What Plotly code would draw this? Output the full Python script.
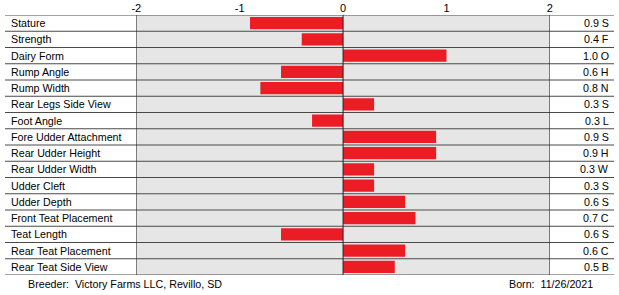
import plotly.graph_objects as go

traits = ["Stature", "Strength", "Dairy Form", "Rump Angle", "Rump Width",
          "Rear Legs Side View", "Foot Angle", "Fore Udder Attachment",
          "Rear Udder Height", "Rear Udder Width", "Udder Cleft", "Udder Depth",
          "Front Teat Placement", "Teat Length", "Rear Teat Placement",
          "Rear Teat Side View"]
values = [-0.9, -0.4, 1.0, -0.6, -0.8, 0.3, -0.3, 0.9, 0.9, 0.3, 0.3, 0.6,
          0.7, -0.6, 0.6, 0.5]
right_labels = ["0.9 S", "0.4 F", "1.0 O", "0.6 H", "0.8 N", "0.3 S", "0.3 L",
                "0.9 S", "0.9 H", "0.3 W", "0.3 S", "0.6 S", "0.7 C", "0.6 S",
                "0.6 C", "0.5 B"]
x_ticks = [-2, -1, 0, 1, 2]
breeder = "Breeder:  Victory Farms LLC, Revillo, SD"
born = "Born:  11/26/2021"

W, H = 619, 295
FONT = "Arial, Liberation Sans, sans-serif"
FS = 10.7
x0p, x1p = 133 / W, 552 / W
ybot, ytop = (H - 275) / H, (H - 15) / H

idx = list(range(len(traits)))

fig = go.Figure()
fig.add_trace(go.Bar(x=values, y=idx, orientation="h",
                     marker=dict(color="#ec1c24", line=dict(width=0)),
                     width=0.75, hoverinfo="skip"))

shapes = []
for i in range(len(traits) + 1):
    shapes.append(dict(type="line", xref="paper", yref="y", x0=0, x1=617 / W,
                       y0=i - 0.5, y1=i - 0.5, line=dict(color="#4a4a4a", width=1)))
for xv in [-2, 0, 2]:
    shapes.append(dict(type="line", xref="x", yref="y", x0=xv, x1=xv,
                       y0=-0.5, y1=len(traits) - 0.5,
                       line=dict(color="#222222", width=1)))

ann = []
for i, (t, r) in enumerate(zip(traits, right_labels)):
    ann.append(dict(x=4 / W, y=i, xref="paper", yref="y", text=t, showarrow=False,
                    xanchor="left", yanchor="middle", font=dict(size=FS, color="black", family=FONT)))
    ann.append(dict(x=614 / W, y=i, xref="paper", yref="y", text=r, showarrow=False,
                    xanchor="right", yanchor="middle", font=dict(size=FS, color="black", family=FONT)))
ann.append(dict(x=21 / W, y=(H - 284) / H, xref="paper", yref="paper", text=breeder,
                showarrow=False, xanchor="left", yanchor="middle",
                font=dict(size=FS, color="black", family=FONT)))
ann.append(dict(x=509 / W, y=(H - 284) / H, xref="paper", yref="paper", text=born,
                showarrow=False, xanchor="left", yanchor="middle",
                font=dict(size=FS, color="black", family=FONT)))

fig.update_layout(
    width=W, height=H, margin=dict(l=0, r=0, t=0, b=0),
    paper_bgcolor="white", plot_bgcolor="#e6e6e6",
    showlegend=False, shapes=shapes, annotations=ann,
    xaxis=dict(domain=[x0p, x1p], range=[-2, 2], side="top", tickvals=x_ticks,
               ticktext=[str(v) for v in x_ticks], showgrid=False, zeroline=False,
               ticks="", tickfont=dict(size=11, color="black", family=FONT),
               fixedrange=True),
    yaxis=dict(domain=[ybot, ytop], range=[len(traits) - 0.5, -0.5],
               showticklabels=False, showgrid=False, zeroline=False, ticks="",
               fixedrange=True),
)

fig.write_html("out.html")
